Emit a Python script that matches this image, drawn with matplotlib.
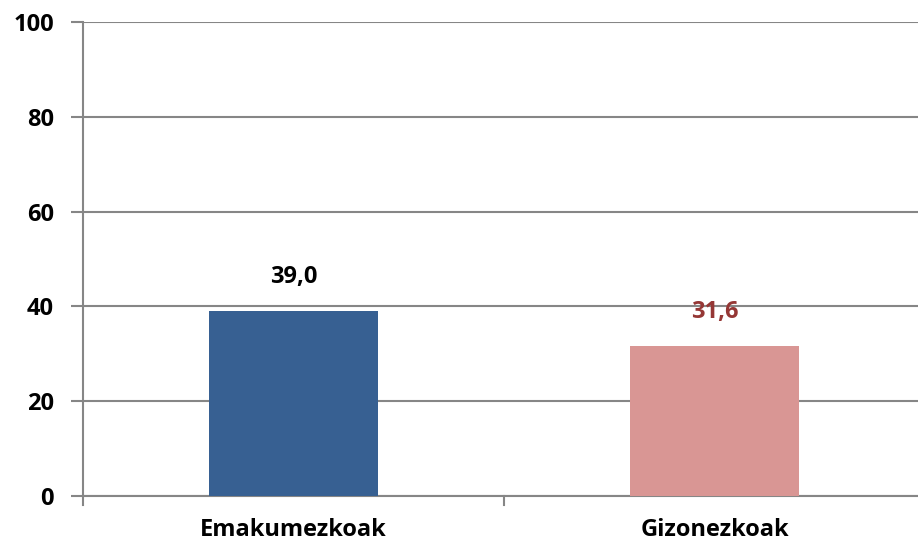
import matplotlib
matplotlib.use("Agg")
import matplotlib.pyplot as plt

categories = ["Emakumezkoak", "Gizonezkoak"]
values = [39.0, 31.6]
bar_colors = ["#376092", "#D99694"]
label_colors = ["#000000", "#953735"]
yticks = [0, 20, 40, 60, 80, 100]

plt.rcParams['font.family'] = ['Open Sans', 'DejaVu Sans']
plt.rcParams['font.weight'] = 'bold'

fig = plt.figure(figsize=(9.18, 5.44), dpi=100)
# axes run a bit past the right edge, like the source
ax = fig.add_axes([83 / 918, 48 / 544, 842 / 918, 474 / 544])

x = range(len(categories))
bars = ax.bar(x, values, width=0.4, color=bar_colors, zorder=3)

for b, v, c in zip(bars, values, label_colors):
    ax.text(b.get_x() + b.get_width() / 2, v + 4.6, f"{v:.1f}".replace(".", ","),
            ha='center', va='bottom', fontsize=17, fontweight='bold', color=c)

ax.set_xlim(-0.5, 1.5)
ax.set_ylim(0, 100)
ax.set_yticks(yticks)
ax.set_yticklabels([str(t) for t in yticks], fontsize=17, fontweight='bold')
ax.set_xticks(list(x))
ax.set_xticklabels(categories, fontsize=17, fontweight='bold')
ax.tick_params(axis='x', length=0, pad=16)
ax.tick_params(axis='y', length=9, width=1.5, color='#868686', pad=12)

# category boundary ticks on x axis
for xb in [-0.5, 0.5, 1.5]:
    ax.plot([xb, xb], [0, -2], color='#868686', lw=1.5, clip_on=False, zorder=2)

ax.grid(axis='y', color='#868686', lw=1.5, zorder=1)
for s in ['top', 'right']:
    ax.spines[s].set_visible(False)
ax.spines['left'].set_color('#868686')
ax.spines['left'].set_linewidth(1.5)
ax.spines['bottom'].set_color('#868686')
ax.spines['bottom'].set_linewidth(1.5)

fig.savefig("out.png", dpi=100)
